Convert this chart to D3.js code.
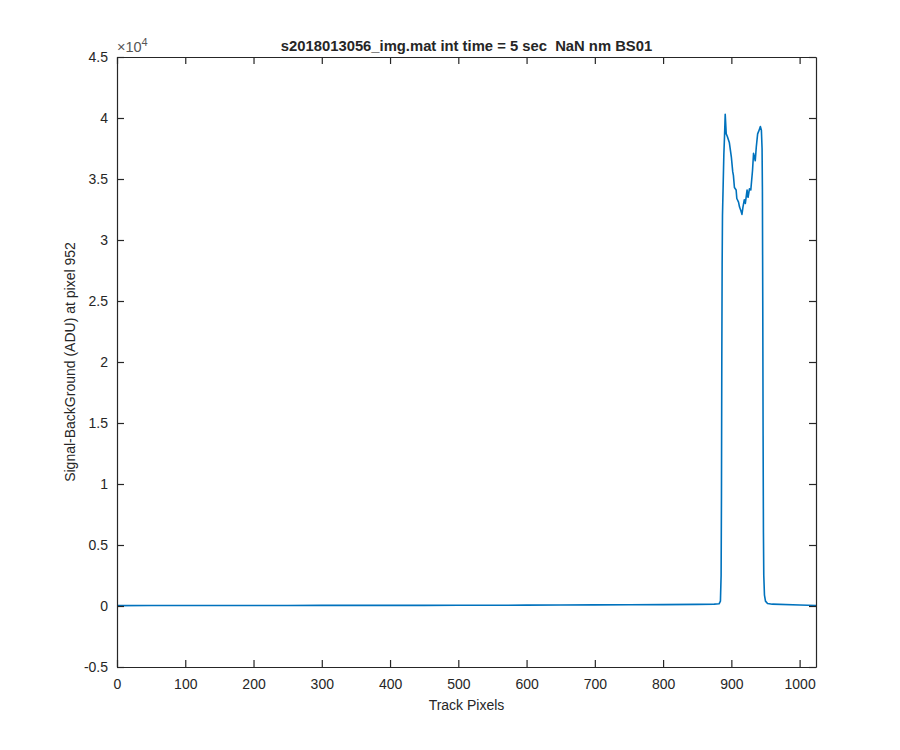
<!DOCTYPE html>
<html>
<head>
<meta charset="utf-8">
<script src="https://cdn.jsdelivr.net/npm/d3@7/dist/d3.min.js"></script>
<style>
  body { margin: 0; background: #fff; }
  svg text { font-family: "Liberation Sans", Arial, Helvetica, sans-serif; fill: #262626; white-space: pre; }
</style>
</head>
<body>
<svg id="chart" width="900" height="750"></svg>
<script>
// ---- data ----
const titleText = "s2018013056_img.mat int time = 5 sec  NaN nm BS01";
const xLabelText = "Track Pixels";
const yLabelText = "Signal-BackGround (ADU) at pixel 952";

const trackPixel = [0, 50, 100, 150, 200, 250, 300, 350, 400, 450, 500, 550, 600, 650, 700, 750, 800, 850, 875, 882,
  884, 885, 885.5, 886, 886.5, 887, 888, 889, 890, 891, 892.5, 894, 897, 900, 902, 903, 904.5, 907, 908, 910.5,
  912, 914, 915.5, 917, 919, 920.5, 923, 924.5, 926.5, 928.5, 931, 932.5, 935, 936.5, 938.5, 940, 942.5, 944,
  945, 945.5, 946, 946.5, 947, 947.5, 948.5, 950, 953, 960, 1000, 1024];
const signal = [30, 35, 40, 40, 45, 45, 50, 50, 55, 55, 60, 65, 70, 80, 90, 100, 110, 130, 150, 180,
  400, 2500, 9000, 20000, 28000, 32000, 34500, 37000, 38500, 40300, 38700, 38500, 38000, 36800, 35600, 35300, 34300, 34100, 33400, 33100,
  32700, 32400, 32100, 32700, 33300, 33000, 34100, 33500, 34200, 34100, 35700, 37100, 36500, 37600, 38700, 38900, 39300, 39000,
  37500, 34000, 25000, 14000, 6000, 2500, 900, 400, 200, 150, 80, 40];

const xTicks = [0, 100, 200, 300, 400, 500, 600, 700, 800, 900, 1000];
const yTicks = [-0.5, 0, 0.5, 1, 1.5, 2, 2.5, 3, 3.5, 4, 4.5]; // in units of 10^4
const xDomain = [0, 1024];
const yDomain = [-0.5, 4.5];
const yExponent = 4;

// ---- layout ----
const svg = d3.select("#chart");
const pL = 117, pR = 816, pT = 57, pB = 667;
const axisColor = "#262626";
const tickLen = 7;

const x = d3.scaleLinear().domain(xDomain).range([pL, pR]);
const y = d3.scaleLinear().domain(yDomain).range([pB, pT]);

// line
const pts = trackPixel.map((p, i) => [p, signal[i] / Math.pow(10, yExponent)]);
svg.append("path")
  .datum(pts)
  .attr("fill", "none")
  .attr("stroke", "#0072BD")
  .attr("stroke-width", 1.6)
  .attr("stroke-linejoin", "round")
  .attr("d", d3.line().x(d => x(d[0])).y(d => y(d[1])));

// axes (ticks inward on all sides)
const fmt = d => String(d);
const gB = svg.append("g").attr("transform", `translate(0,${pB})`)
  .call(d3.axisBottom(x).tickValues(xTicks).tickSize(-tickLen).tickSizeOuter(0).tickPadding(12).tickFormat(fmt));
const gT = svg.append("g").attr("transform", `translate(0,${pT})`)
  .call(d3.axisTop(x).tickValues(xTicks).tickSize(-tickLen).tickSizeOuter(0).tickFormat(""));
const gL = svg.append("g").attr("transform", `translate(${pL},0)`)
  .call(d3.axisLeft(y).tickValues(yTicks).tickSize(-tickLen).tickSizeOuter(0).tickPadding(9).tickFormat(fmt));
const gR = svg.append("g").attr("transform", `translate(${pR},0)`)
  .call(d3.axisRight(y).tickValues(yTicks).tickSize(-tickLen).tickSizeOuter(0).tickFormat(""));

[gB, gT, gL, gR].forEach(g => {
  g.select(".domain").attr("stroke", axisColor).attr("stroke-width", 1.2);
  g.selectAll(".tick line").attr("stroke", axisColor).attr("stroke-width", 1.2);
  g.selectAll(".tick text").attr("fill", axisColor).style("font-size", "14px")
    .style("font-family", '"Liberation Sans", Arial, sans-serif');
});

// exponent label
const ex = svg.append("text").attr("x", pL).attr("y", 52).style("font-size", "14.5px").style("fill", "#555");
ex.append("tspan").text("\u00D710");
ex.append("tspan").attr("dy", -6).style("font-size", "11px").text(String(yExponent));

// title
svg.append("text").attr("x", (pL + pR) / 2).attr("y", 51)
  .attr("text-anchor", "middle").style("font-size", "14.8px").style("font-weight", "bold")
  .text(titleText);

// x label
svg.append("text").attr("x", (pL + pR) / 2).attr("y", 710)
  .attr("text-anchor", "middle").style("font-size", "14px").text(xLabelText);

// y label
svg.append("text").attr("transform", `translate(75,${(pT + pB) / 2}) rotate(-90)`)
  .attr("text-anchor", "middle").style("font-size", "14px").text(yLabelText);
</script>
</body>
</html>
